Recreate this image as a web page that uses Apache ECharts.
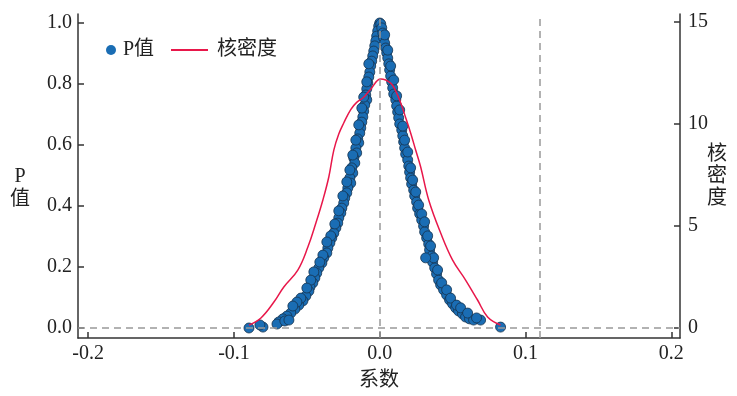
<!DOCTYPE html>
<html><head><meta charset="utf-8">
<script src="https://cdn.jsdelivr.net/npm/echarts@6/dist/echarts.min.js"></script>
<style>html,body{margin:0;padding:0;background:#fff}#c{width:737px;height:396px}</style>
</head><body><div id="c"></div>
<script>
// ---- data ----
const xTicks = [-0.2, -0.1, 0.0, 0.1, 0.2];
const pTicks = [0, 0.2, 0.4, 0.6, 0.8, 1.0];
const kdeTicks = [0, 5, 10, 15];
const refLinesX = [0, 0.111];
const refLinesY = [0];

// scatter: coefficient vs P value (left arm then right arm)
const coefLeft = [0.0000,-0.0007,-0.0014,-0.0021,-0.0027,-0.0034,-0.0041,-0.0048,-0.0055,-0.0062,-0.0068,-0.0075,-0.0082,-0.0089,-0.0096,-0.0089,-0.0103,-0.0110,-0.0116,-0.0123,-0.0130,-0.0137,-0.0151,-0.0144,-0.0164,-0.0158,-0.0178,-0.0171,-0.0192,-0.0185,-0.0205,-0.0199,-0.0219,-0.0226,-0.0240,-0.0247,-0.0260,-0.0267,-0.0281,-0.0288,-0.0301,-0.0315,-0.0329,-0.0342,-0.0356,-0.0363,-0.0384,-0.0397,-0.0418,-0.0432,-0.0445,-0.0459,-0.0479,-0.0486,-0.0507,-0.0527,-0.0555,-0.0582,-0.0610,-0.0637,-0.0664,-0.0692,-0.0705,-0.0651,-0.0623,-0.0801,-0.0822,-0.0897,
 -0.0075,-0.0089,-0.0110,-0.0123,-0.0144,-0.0164,-0.0185,-0.0205,-0.0226,-0.0253,-0.0281,-0.0308,-0.0336,-0.0363,-0.0390,-0.0411,-0.0452,-0.0473,-0.0500,-0.0541,-0.0568,-0.0596];
const pLeft = [1.000,0.990,0.974,0.957,0.941,0.925,0.908,0.892,0.875,0.859,0.839,0.823,0.803,0.784,0.764,0.748,0.731,0.711,0.692,0.675,0.656,0.639,0.620,0.607,0.590,0.574,0.557,0.541,0.525,0.508,0.492,0.475,0.459,0.443,0.426,0.410,0.393,0.377,0.361,0.344,0.328,0.311,0.295,0.279,0.262,0.246,0.230,0.213,0.197,0.180,0.164,0.148,0.134,0.121,0.105,0.089,0.075,0.062,0.049,0.039,0.030,0.020,0.013,0.023,0.026,0.003,0.010,0.000,
 0.866,0.807,0.757,0.721,0.666,0.616,0.567,0.518,0.479,0.433,0.384,0.341,0.302,0.282,0.239,0.216,0.184,0.157,0.131,0.098,0.085,0.072];
const coefRight = [0.0007,0.0014,0.0021,0.0027,0.0034,0.0041,0.0048,0.0055,0.0062,0.0068,0.0075,0.0082,0.0089,0.0096,0.0110,0.0116,0.0123,0.0130,0.0137,0.0151,0.0158,0.0164,0.0171,0.0178,0.0192,0.0199,0.0205,0.0212,0.0219,0.0233,0.0240,0.0253,0.0260,0.0274,0.0288,0.0301,0.0308,0.0322,0.0336,0.0342,0.0356,0.0363,0.0377,0.0390,0.0404,0.0418,0.0438,0.0459,0.0479,0.0500,0.0521,0.0541,0.0568,0.0589,0.0616,0.0644,0.0692,0.0829,
 0.0034,0.0055,0.0075,0.0096,0.0116,0.0137,0.0158,0.0171,0.0192,0.0212,0.0226,0.0247,0.0267,0.0288,0.0308,0.0329,0.0349,0.0370,0.0397,0.0425,0.0459,0.0486,0.0527,0.0555,0.0603,0.0664,0.0315];
const pRight = [0.997,0.984,0.967,0.951,0.934,0.918,0.902,0.885,0.866,0.846,0.826,0.807,0.787,0.767,0.748,0.728,0.708,0.689,0.669,0.649,0.630,0.610,0.590,0.570,0.551,0.531,0.511,0.492,0.472,0.452,0.433,0.413,0.393,0.374,0.354,0.334,0.315,0.295,0.275,0.256,0.236,0.216,0.197,0.177,0.157,0.141,0.125,0.108,0.092,0.079,0.066,0.056,0.046,0.036,0.030,0.026,0.026,0.003,
 0.961,0.911,0.859,0.813,0.761,0.715,0.662,0.616,0.577,0.525,0.485,0.446,0.403,0.374,0.348,0.302,0.269,0.230,0.190,0.148,0.125,0.098,0.075,0.066,0.049,0.033,0.230];

// kernel density curve (right axis)
const kdeCoef = [-0.0897,-0.0815,-0.0726,-0.0658,-0.0562,-0.0493,-0.0438,-0.0390,-0.0349,-0.0315,-0.0281,-0.0247,-0.0199,-0.0158,-0.0110,-0.0062,0.0007,0.0075,0.0110,0.0144,0.0178,0.0212,0.0247,0.0281,0.0336,0.0418,0.0500,0.0589,0.0671,0.0740,0.0829];
const kdeDensity = [0.12,0.47,1.25,1.99,2.82,3.95,5.13,6.26,7.40,8.71,9.50,10.04,10.70,11.05,11.30,11.70,12.20,12.00,11.60,11.02,10.30,9.55,8.70,7.88,6.26,4.64,3.31,2.33,1.35,0.52,0.12];

// ---- build ----
const FONT = '"Liberation Serif","Noto Sans CJK SC",serif';
const scatterData = coefLeft.map((c,i)=>[c,pLeft[i]]).concat(coefRight.map((c,i)=>[c,pRight[i]]));
const kdeData = kdeCoef.map((c,i)=>[c,kdeDensity[i]]);
const axisColor = '#333';

const chart = echarts.init(document.getElementById('c'));
chart.setOption({
  animation:false,
  backgroundColor:'#fff',
  textStyle:{fontFamily:FONT},
  grid:{left:78,right:57,top:14,bottom:58},
  legend:[
    {left:101,top:35,itemWidth:10,itemHeight:10,itemGap:0,
     textStyle:{fontFamily:FONT,fontSize:20,color:'#222',padding:[0,0,0,2]},
     data:[{name:'P值',icon:'circle',itemStyle:{borderWidth:0}}]},
    {left:166,top:35,itemWidth:37,itemHeight:2,
     textStyle:{fontFamily:FONT,fontSize:20,color:'#222',padding:[0,0,0,4]},
     data:[{name:'核密度',icon:'rect'}]}
  ],
  xAxis:{type:'value',min:-0.207,max:0.206,
    axisLine:{onZero:false,lineStyle:{color:axisColor,width:1.5}},
    axisTick:{inside:true,length:6,customValues:xTicks,lineStyle:{color:axisColor,width:1.5}},
    axisLabel:{customValues:xTicks,fontSize:20,color:'#222',fontFamily:FONT,margin:6,
      formatter:v=>v.toFixed(1)},
    splitLine:{show:false}},
  yAxis:[
    {type:'value',min:-0.0328,max:1.0295,position:'left',
     axisLine:{show:true,onZero:false,lineStyle:{color:axisColor,width:1.5}},
     axisTick:{show:true,inside:true,length:6,customValues:pTicks,lineStyle:{color:axisColor,width:1.5}},
     axisLabel:{customValues:pTicks,fontSize:20,color:'#222',fontFamily:FONT,margin:6,formatter:v=>v.toFixed(1)},
     splitLine:{show:false}},
    {type:'value',min:-0.515,max:15.39,position:'right',
     axisLine:{show:true,onZero:false,lineStyle:{color:axisColor,width:1.5}},
     axisTick:{show:true,inside:true,length:6,customValues:kdeTicks,lineStyle:{color:axisColor,width:1.5}},
     axisLabel:{customValues:kdeTicks,fontSize:20,color:'#222',fontFamily:FONT,margin:8,formatter:v=>String(v)},
     splitLine:{show:false}}
  ],
  graphic:[
    {type:'text',style:{text:'P\n值',font:'20px '+FONT,fill:'#222',align:'center',lineHeight:23},x:20,y:165},
    {type:'text',style:{text:'核\n密\n度',font:'20px '+FONT,fill:'#222',align:'center',lineHeight:22},x:717,y:144},
    {type:'text',style:{text:'系数',font:'20px '+FONT,fill:'#222',align:'center'},x:379,y:371}
  ],
  series:[
    {type:'line',name:'refs',data:[],z:1,silent:true,
     markLine:{silent:true,symbol:'none',label:{show:false},animation:false,
       lineStyle:{type:[7,5],color:'#999',width:1.5},
       data:refLinesX.map(v=>({xAxis:v})).concat(refLinesY.map(v=>({yAxis:v})))}},
    {type:'scatter',name:'P值',yAxisIndex:0,data:scatterData,symbolSize:10,z:3,
     itemStyle:{color:'#1a6db4',borderColor:'#17324d',borderWidth:0.8,opacity:1}},
    {type:'line',name:'核密度',yAxisIndex:1,data:kdeData,smooth:0.4,symbol:'none',z:4,
     lineStyle:{color:'#e8174a',width:1.5},itemStyle:{color:'#e8174a'}}
  ]
});
</script></body></html>
